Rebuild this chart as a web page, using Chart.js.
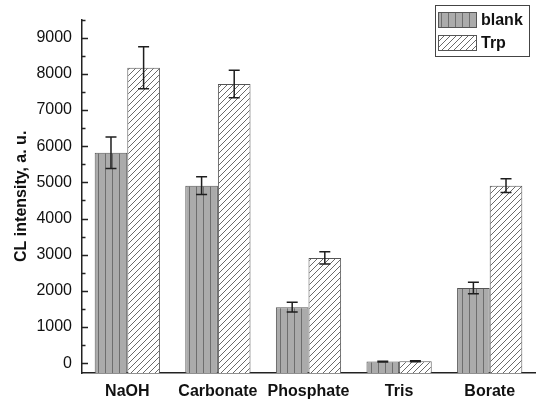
<!DOCTYPE html>
<html>
<head>
<meta charset="utf-8">
<script src="https://cdn.jsdelivr.net/npm/chart.js@4/dist/chart.umd.min.js"></script>
<style>
  html, body { margin: 0; padding: 0; background: #fff; }
  #wrap { width: 538px; height: 401px; }
</style>
</head>
<body>
<div id="wrap"><canvas id="clChart" width="538" height="401"></canvas></div>
<script>
    // CL intensity per buffer
    const buffers = ['NaOH', 'Carbonate', 'Phosphate', 'Tris', 'Borate'];
    const blank = [5820, 4910, 1550, 45, 2080];
    const blankErr = [435, 245, 135, 12, 160];
    const trp = [8170, 7720, 2910, 55, 4910];
    const trpErr = [580, 380, 170, 12, 190];
    const yTicks = [0, 1000, 2000, 3000, 4000, 5000, 6000, 7000, 8000, 9000];
    const errs = [blankErr, trpErr];

    const FONT = "'Liberation Sans', Arial, sans-serif";

    // fill patterns: vertical stripes for blank, diagonal hatch for Trp
    function stripePattern() {
        const c = document.createElement('canvas');
        c.width = 7; c.height = 7;
        const g = c.getContext('2d');
        g.fillStyle = '#ababab';
        g.fillRect(0, 0, 7, 7);
        g.fillStyle = '#6e6e6e';
        g.fillRect(0, 0, 1, 7);
        return g.createPattern(c, 'repeat');
    }
    function hatchPattern() {
        const c = document.createElement('canvas');
        c.width = 6; c.height = 6;
        const g = c.getContext('2d');
        g.fillStyle = '#ffffff';
        g.fillRect(0, 0, 6, 6);
        g.strokeStyle = '#6a6a6a';
        g.lineWidth = 1;
        g.beginPath();
        g.moveTo(-1, 7); g.lineTo(7, -1);
        g.moveTo(-4, 4); g.lineTo(4, -4);
        g.moveTo(2, 10); g.lineTo(10, 2);
        g.stroke();
        return g.createPattern(c, 'repeat');
    }
    const blankFill = stripePattern();
    const trpFill = hatchPattern();

    // error bars on top of each bar
    const errorBars = {
        id: 'errorBars',
        afterDatasetsDraw(chart) {
            const ctx = chart.ctx;
            const y = chart.scales.y;
            ctx.save();
            ctx.strokeStyle = '#1e1e1e';
            ctx.lineWidth = 1.5;
            chart.data.datasets.forEach((ds, di) => {
                const meta = chart.getDatasetMeta(di);
                meta.data.forEach((bar, i) => {
                    const v = ds.data[i], e = errs[di][i];
                    const yTop = y.getPixelForValue(v + e);
                    const yBot = y.getPixelForValue(v - e);
                    ctx.beginPath();
                    ctx.moveTo(bar.x, yTop); ctx.lineTo(bar.x, yBot);
                    ctx.moveTo(bar.x - 5.5, yTop); ctx.lineTo(bar.x + 5.5, yTop);
                    ctx.moveTo(bar.x - 5.5, yBot); ctx.lineTo(bar.x + 5.5, yBot);
                    ctx.stroke();
                });
            });
            ctx.restore();
        }
    };

    // inward ticks on the y axis and the boxed legend
    const decorations = {
        id: 'decorations',
        afterDraw(chart) {
            const ctx = chart.ctx;
            const y = chart.scales.y;
            const left = chart.chartArea.left;
            ctx.save();
            ctx.strokeStyle = '#222';
            ctx.lineWidth = 1.5;
            ctx.beginPath();
            for (let v = 0; v <= 9500; v += 500) {
                const py = Math.round(y.getPixelForValue(v)) + 0.5;
                const len = v % 1000 === 0 ? 6 : 3.5;
                ctx.moveTo(left, py); ctx.lineTo(left + len, py);
            }
            ctx.stroke();

            // legend
            ctx.lineWidth = 1;
            ctx.strokeStyle = '#444';
            ctx.fillStyle = '#fff';
            ctx.fillRect(435.5, 5.5, 94, 51);
            ctx.strokeRect(435.5, 5.5, 94, 51);
            const items = [['blank', blankFill, 12], ['Trp', trpFill, 35]];
            ctx.font = 'bold 16px ' + FONT;
            ctx.textBaseline = 'middle';
            items.forEach(([label, fill, top]) => {
                ctx.fillStyle = fill;
                ctx.fillRect(438.5, top + 0.5, 38, 15);
                ctx.strokeStyle = '#555';
                ctx.strokeRect(438.5, top + 0.5, 38, 15);
                ctx.fillStyle = '#111';
                ctx.fillText(label, 481, top + 9);
            });
            ctx.restore();
        }
    };

    const ctx = document.getElementById('clChart').getContext('2d');
    new Chart(ctx, {
        type: 'bar',
        data: {
            labels: buffers,
            datasets: [
                {
                    label: 'blank',
                    data: blank,
                    base: -270,
                    backgroundColor: blankFill,
                    borderColor: '#555',
                    borderWidth: 1
                },
                {
                    label: 'Trp',
                    data: trp,
                    base: -270,
                    backgroundColor: trpFill,
                    borderColor: '#555',
                    borderWidth: 1
                }
            ]
        },
        options: {
            responsive: false,
            animation: false,
            categoryPercentage: 0.72,
            barPercentage: 1,
            layout: { padding: { top: 10, right: 3, left: 0, bottom: 0 } },
            plugins: {
                legend: { display: false },
                tooltip: { enabled: false }
            },
            scales: {
                x: {
                    grid: { display: false, drawTicks: false },
                    border: { display: true, color: '#222', width: 1.5 },
                    ticks: {
                        color: '#111',
                        padding: 9,
                        font: { family: FONT, size: 16, weight: 'bold' }
                    },
                    afterFit(scale) { scale.height = 28; }
                },
                y: {
                    min: -270,
                    max: 9500,
                    grid: { display: false, drawTicks: false },
                    border: { display: true, color: '#222', width: 1.5 },
                    afterBuildTicks(scale) {
                        scale.ticks = yTicks.map(v => ({ value: v }));
                    },
                    ticks: {
                        color: '#111',
                        padding: 10,
                        font: { family: FONT, size: 16 },
                        callback: function(value) {
                            return String(value);
                        }
                    },
                    title: {
                        display: true,
                        text: 'CL intensity, a. u.',
                        color: '#111',
                        padding: { top: 12, bottom: 0 },
                        font: { family: FONT, size: 16, weight: 'bold' }
                    },
                    afterFit(scale) { scale.width = 82; }
                }
            }
        },
        plugins: [errorBars, decorations]
    });
</script>
</body>
</html>
